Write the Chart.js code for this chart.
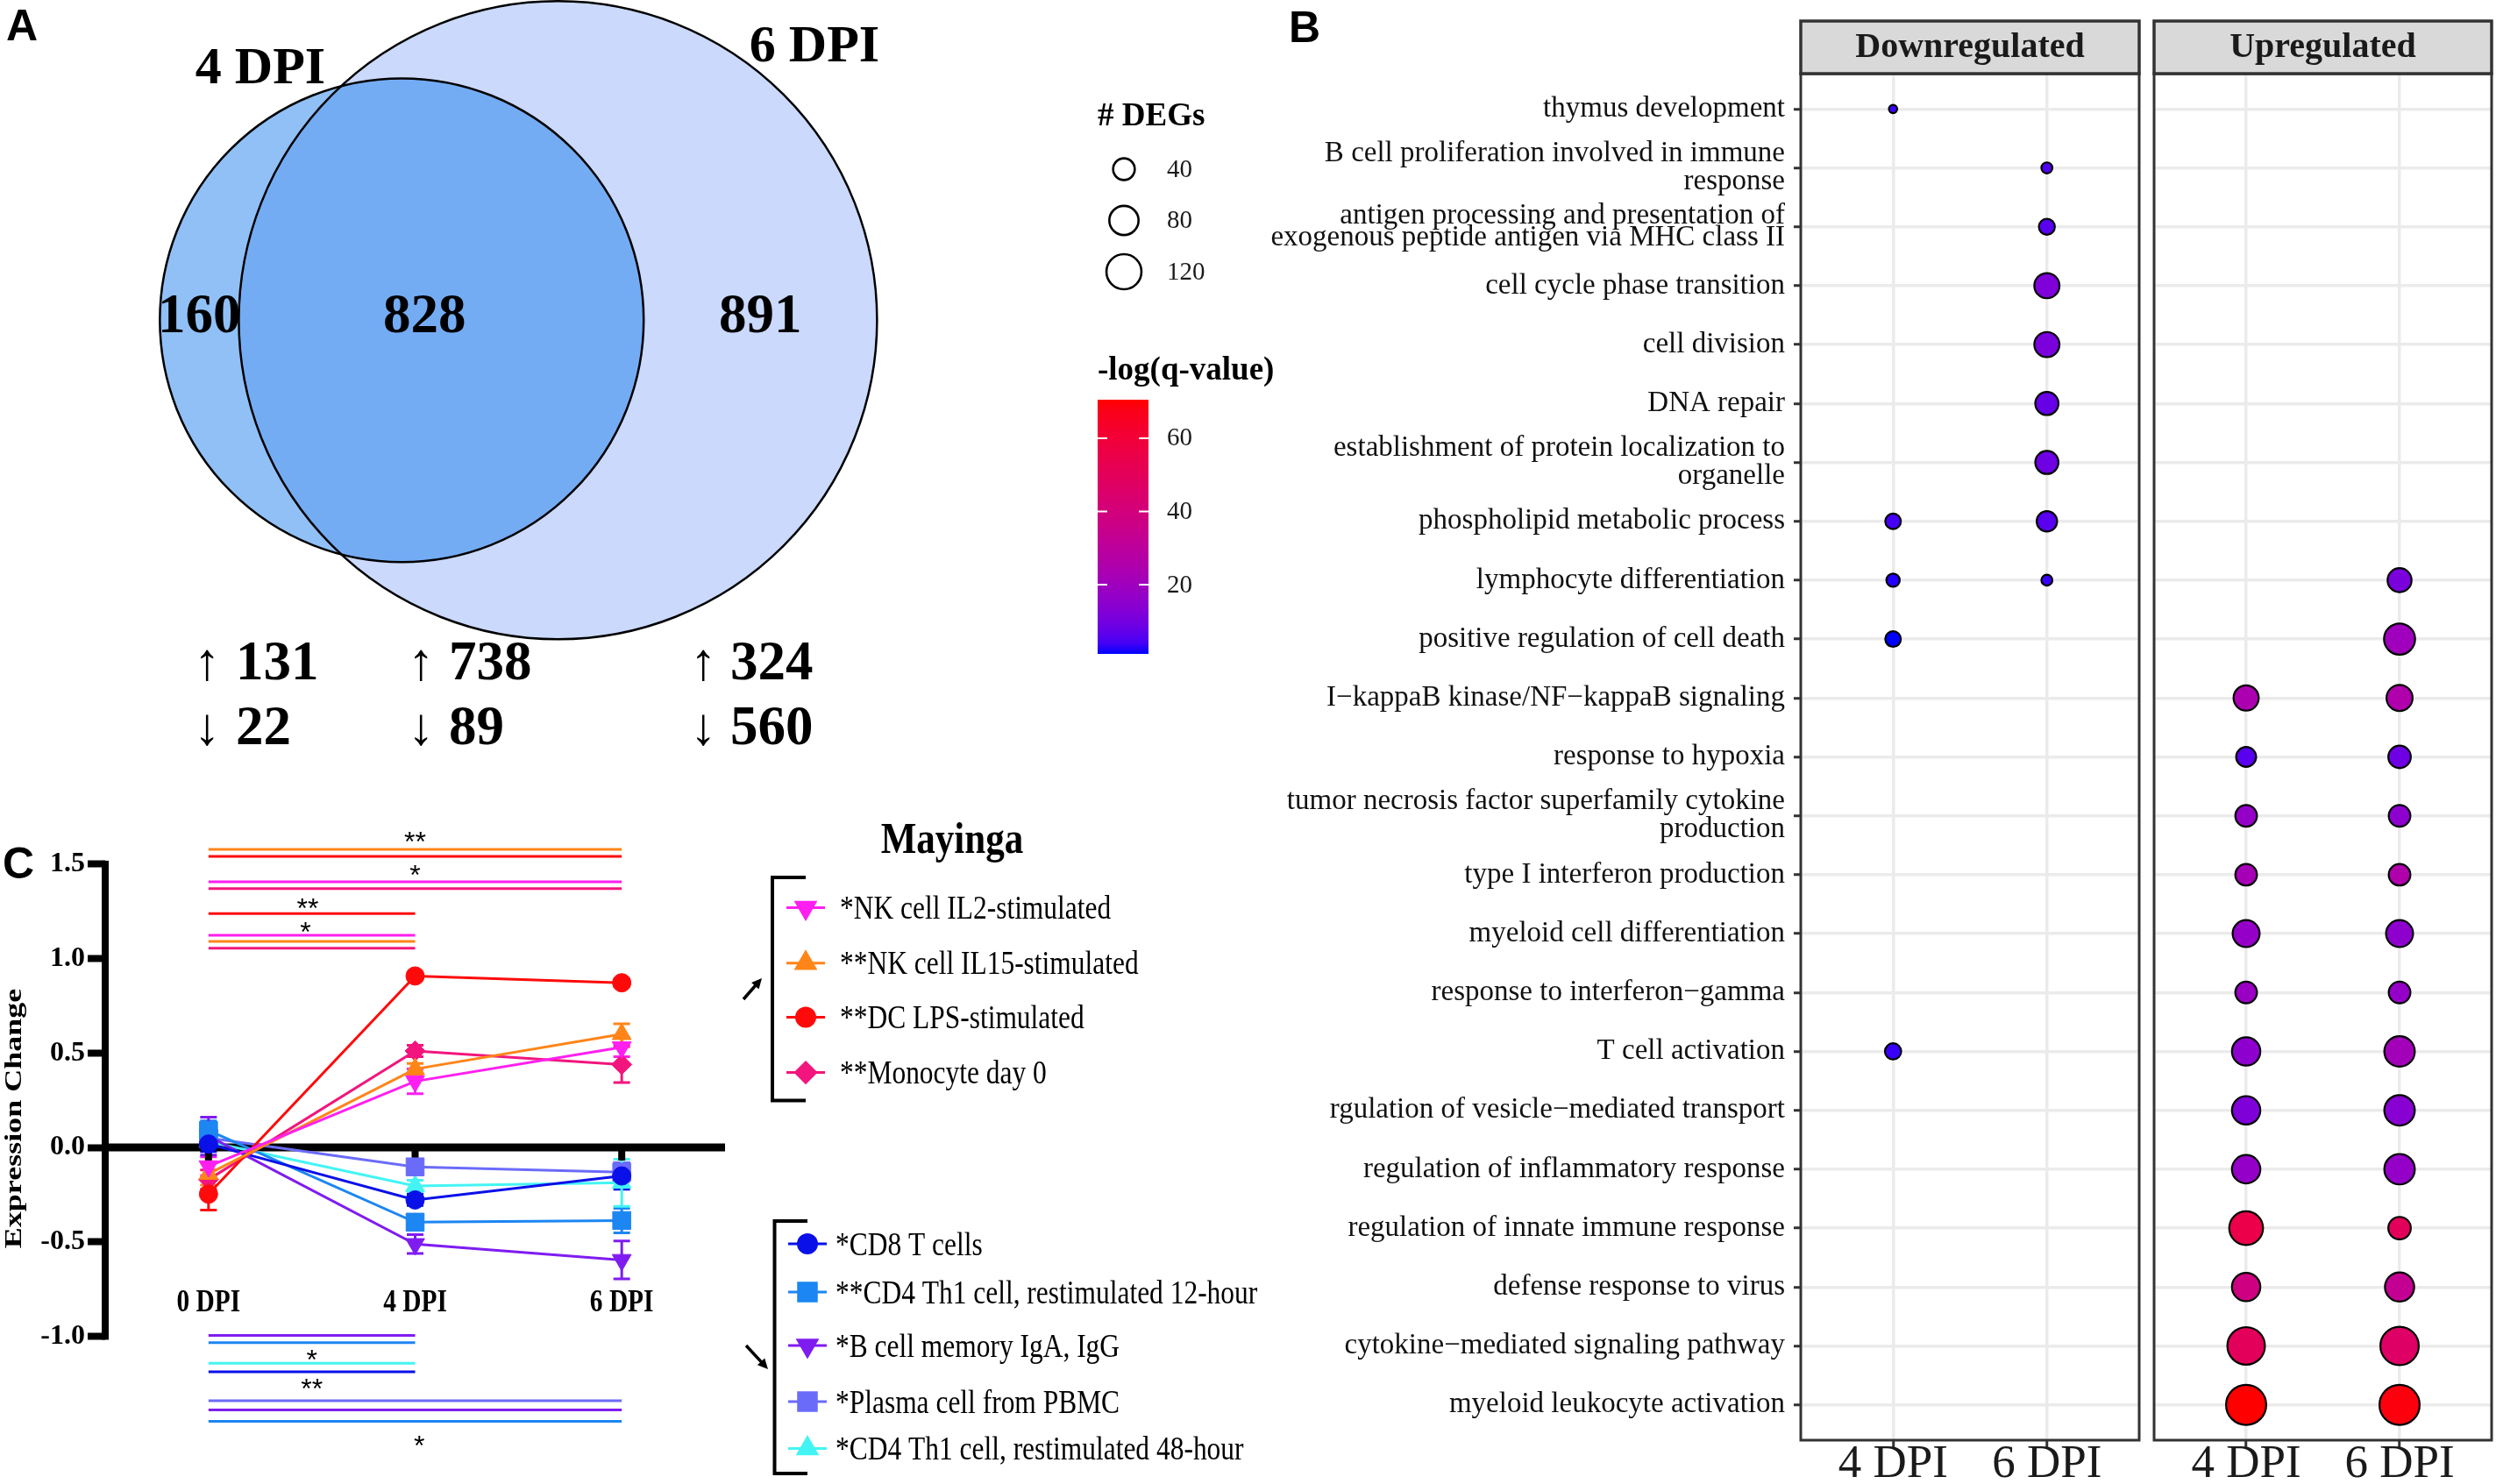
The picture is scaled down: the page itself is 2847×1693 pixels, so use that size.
<!DOCTYPE html>
<html>
<head>
<meta charset="utf-8">
<title>DEGs after infection</title>
<script src="https://cdn.jsdelivr.net/npm/chart.js@4.4.1/dist/chart.umd.min.js"></script>
<style>
  body { margin: 0; background: #fff; overflow: hidden; }
  #page { position: relative; width: 2847px; height: 1693px; overflow: hidden; background: #fff; }
  canvas { position: absolute; }
  .tag { position: absolute; font: bold 50px "Liberation Sans", Arial, sans-serif; line-height: 50px; color: #000; }
</style>
</head>
<body>
<div id="page">
  <canvas id="venn" width="1100" height="880" style="left:0;top:0"></canvas>
  <canvas id="expr" width="1460" height="793" style="left:0;top:900px"></canvas>
  <canvas id="down" width="1247" height="1693" style="left:1200px;top:0"></canvas>
  <canvas id="up" width="400" height="1693" style="left:2447px;top:0"></canvas>
  <div class="tag" style="left:7px;top:4px">A</div>
  <div class="tag" style="left:1470px;top:6px">B</div>
  <div class="tag" style="left:3px;top:960px">C</div>
</div>
<script>
const SERIF = '"Liberation Serif", "Times New Roman", serif';
const SANS = '"Liberation Sans", Arial, sans-serif';
const _ = null;

// ---------- A: venn counts
const vennSets = ['4 DPI', '6 DPI'];
const vennOnly = [160, 891];
const vennShared = 828;
const regUp = [131, 738, 324];
const regDown = [22, 89, 560];

// ---------- B: GO terms, gene counts and -log(q)
const goTerms = [
  'thymus development',
  ['B cell proliferation involved in immune', 'response'],
  ['antigen processing and presentation of', 'exogenous peptide antigen via MHC class II'],
  'cell cycle phase transition',
  'cell division',
  'DNA repair',
  ['establishment of protein localization to', 'organelle'],
  'phospholipid metabolic process',
  'lymphocyte differentiation',
  'positive regulation of cell death',
  'I\u2212kappaB kinase/NF\u2212kappaB signaling',
  'response to hypoxia',
  ['tumor necrosis factor superfamily cytokine', 'production'],
  'type I interferon production',
  'myeloid cell differentiation',
  'response to interferon\u2212gamma',
  'T cell activation',
  'rgulation of vesicle\u2212mediated transport',
  'regulation of inflammatory response',
  'regulation of innate immune response',
  'defense response to virus',
  'cytokine\u2212mediated signaling pathway',
  'myeloid leukocyte activation'
];
const dpiLabels = ['4 DPI', '6 DPI'];
const downN4 = [3, _, _, _, _, _, _, 18, 12, 18, _, _, _, _, _, _, 20, _, _, _, _, _, _];
const downN6 = [_, 7, 19, 57, 57, 47, 47, 35, 7, _, _, _, _, _, _, _, _, _, _, _, _, _, _];
const upN4   = [_, _, _, _, _, _, _, _, _, _, 57, 33, 40, 40, 67, 40, 75, 75, 75, 111, 75, 140, 162];
const upN6   = [_, _, _, _, _, _, _, _, 51, 92, 62, 44, 40, 40, 67, 40, 88, 88, 88, 44, 80, 147, 162];
const downQ4 = [3, _, _, _, _, _, _, 4, 2, 1.1, _, _, _, _, _, _, 3, _, _, _, _, _, _];
const downQ6 = [_, 5, 6, 12, 11, 8, 9, 6, 3, _, _, _, _, _, _, _, _, _, _, _, _, _, _];
const upQ4   = [_, _, _, _, _, _, _, _, _, _, 24, 6, 17, 22, 17, 18, 15, 12, 17, 55, 38, 50, 70.5];
const upQ6   = [_, _, _, _, _, _, _, _, 11, 20, 25, 9, 15, 25, 15, 17, 21, 14, 17, 50, 33, 47, 69];
const sizeBreaks = [40, 80, 120];
const colorBreaks = [20, 40, 60];

// ---------- C: expression change per cell type
const timePoints = ['0 DPI', '4 DPI', '6 DPI'];
const cellTypes = [
  '*NK cell IL2-stimulated', '**NK cell IL15-stimulated', '**DC LPS-stimulated', '**Monocyte day 0',
  '*CD8 T cells', '**CD4 Th1 cell, restimulated 12-hour', '*B cell memory IgA, IgG',
  '*Plasma cell from PBMC', '*CD4 Th1 cell, restimulated 48-hour'
];
const exprMean = [
  [-0.10, 0.35, 0.53],
  [-0.14, 0.415, 0.60],
  [-0.247, 0.908, 0.872],
  [-0.17, 0.511, 0.439],
  [0.018, -0.278, -0.151],
  [0.09, -0.396, -0.387],
  [0.06, -0.512, -0.596],
  [0.05, -0.103, -0.131],
  [0.03, -0.204, -0.187]
];
const exprSem = [
  [0.05, 0.065, 0.05],
  [0.06, 0.03, 0.055],
  [0.085, 0.02, 0.02],
  [0.05, 0.03, 0.095],
  [0.04, 0.03, 0.07],
  [0.05, 0.03, 0.065],
  [0.10, 0.05, 0.10],
  [0.04, 0.04, 0.05],
  [0.04, 0.03, 0.125]
];
const yTicks = [-1, -0.5, 0, 0.5, 1, 1.5];
// [series, last time index, level] and [stars, x, level]
const sigBars = [
  [1, 2, 1.578], [2, 2, 1.541], [0, 2, 1.407], [3, 2, 1.371],
  [2, 1, 1.238], [0, 1, 1.123], [1, 1, 1.091], [3, 1, 1.055],
  [6, 1, -0.996], [5, 1, -1.034], [8, 1, -1.143], [4, 1, -1.188],
  [7, 2, -1.342], [6, 2, -1.390], [5, 2, -1.451]
];
const sigStars = [
  ['**', 1.0, 1.654], ['*', 1.0, 1.474], ['**', 0.48, 1.302], ['*', 0.47, 1.173],
  ['*', 0.5, -1.09], ['**', 0.5, -1.246], ['*', 1.02, -1.547]
];

// styles
const cellColors = ['#FF1FF0', '#FF8519', '#FF0A0A', '#F2157D', '#0A10E8', '#1C86F2', '#7F1CF0', '#6B6BFA', '#44F4F4'];
const cellMarkers = [['triangle', 180], ['triangle', 0], ['circle', 0], ['rectRot', 0], ['circle', 0], ['rect', 0], ['triangle', 180], ['rect', 0], ['triangle', 0]];
const markerRadius = { triangle: 12.5, circle: 10.5, rect: 14.5, rectRot: 11.5 };

// ---------- helpers
function squeezeText(ctx, text, x, y, sx, align) {
  ctx.save();
  ctx.translate(x, y);
  ctx.scale(sx, 1);
  ctx.textAlign = align || 'left';
  ctx.fillText(text, 0, 0);
  ctx.restore();
}

// ggplot-like blue -> red gradient, interpolated in Lab
function lin(c) { c /= 255; return c <= 0.04045 ? c / 12.92 : Math.pow((c + 0.055) / 1.055, 2.4); }
function toLab(rgb) {
  const [r, g, b] = rgb.map(lin);
  const X = (r * 0.4124 + g * 0.3576 + b * 0.1805) / 0.95047;
  const Y = r * 0.2126 + g * 0.7152 + b * 0.0722;
  const Z = (r * 0.0193 + g * 0.1192 + b * 0.9505) / 1.08883;
  const f = t => t > 0.008856 ? Math.cbrt(t) : 7.787 * t + 16 / 116;
  return [116 * f(Y) - 16, 500 * (f(X) - f(Y)), 200 * (f(Y) - f(Z))];
}
function fromLab(L, a, b) {
  const fy = (L + 16) / 116, fx = fy + a / 500, fz = fy - b / 200;
  const fi = t => t * t * t > 0.008856 ? t * t * t : (t - 16 / 116) / 7.787;
  const X = 0.95047 * fi(fx), Y = fi(fy), Z = 1.08883 * fi(fz);
  const rgb = [
    3.2406 * X - 1.5372 * Y - 0.4986 * Z,
    -0.9689 * X + 1.8758 * Y + 0.0415 * Z,
    0.0557 * X - 0.2040 * Y + 1.0570 * Z
  ].map(c => {
    c = c <= 0.0031308 ? 12.92 * c : 1.055 * Math.pow(c, 1 / 2.4) - 0.055;
    return Math.round(Math.min(1, Math.max(0, c)) * 255);
  });
  return 'rgb(' + rgb.join(',') + ')';
}
const LAB_LOW = toLab([0, 0, 255]);
const LAB_HIGH = toLab([255, 0, 0]);
const allQ = [...downQ4, ...downQ6, ...upQ4, ...upQ6].filter(v => v != null);
const qMin = Math.min(...allQ), qMax = Math.max(...allQ);
function qColor(q) {
  const t = Math.min(1, Math.max(0, (q - qMin) / (qMax - qMin)));
  return fromLab(
    LAB_LOW[0] + t * (LAB_HIGH[0] - LAB_LOW[0]),
    LAB_LOW[1] + t * (LAB_HIGH[1] - LAB_LOW[1]),
    LAB_LOW[2] + t * (LAB_HIGH[2] - LAB_LOW[2])
  );
}
function dotRadius(n) { return (3.8 + 3.3 * Math.sqrt(n)) / 2; }

// ---------- A: venn as bubbles, sizes by area
function lensArea(r1, r2, d) {
  if (d >= r1 + r2) return 0;
  if (d <= Math.abs(r1 - r2)) return Math.PI * Math.min(r1, r2) ** 2;
  const a1 = Math.acos((d * d + r1 * r1 - r2 * r2) / (2 * d * r1));
  const a2 = Math.acos((d * d + r2 * r2 - r1 * r1) / (2 * d * r2));
  return r1 * r1 * a1 + r2 * r2 * a2 -
    0.5 * Math.sqrt((-d + r1 + r2) * (d + r1 - r2) * (d - r1 + r2) * (d + r1 + r2));
}
function centreDistance(r1, r2, shared) {
  const target = Math.PI * shared;
  let lo = Math.abs(r1 - r2), hi = r1 + r2;
  for (let i = 0; i < 60; i++) {
    const mid = (lo + hi) / 2;
    if (lensArea(r1, r2, mid) > target) lo = mid; else hi = mid;
  }
  return (lo + hi) / 2;
}
const vennR = vennOnly.map(n => Math.sqrt(n + vennShared));
const vennD = centreDistance(vennR[0], vennR[1], vennShared);
const VENN_X = [-52.2, 73.1];
const unitPx = chart => chart.width / (VENN_X[1] - VENN_X[0]);

const vennText = {
  id: 'vennText',
  afterDatasetsDraw(chart) {
    const ctx = chart.ctx;
    const e4 = chart.getDatasetMeta(0).data[0], e6 = chart.getDatasetMeta(1).data[0];
    const r4 = e4.options.radius, r6 = e6.options.radius;
    ctx.save();
    ctx.strokeStyle = '#000';
    ctx.lineWidth = 2.5;
    [e4, e6].forEach(e => {
      ctx.beginPath();
      ctx.arc(e.x, e.y, e.options.radius, 0, Math.PI * 2);
      ctx.stroke();
    });
    ctx.fillStyle = '#000';
    ctx.textAlign = 'center';
    ctx.font = 'bold 60px ' + SERIF;
    ctx.fillText(vennSets[0], 297, 95);
    ctx.fillText(vennSets[1], 929, 70);
    ctx.font = 'bold 63px ' + SERIF;
    const cy = e4.y + 14;
    ctx.fillText(String(vennOnly[0]), ((e4.x - r4) + (e6.x - r6)) / 2, cy);
    ctx.fillText(String(vennShared), (e6.x - r6 + e4.x + r4) / 2 - 19, cy);
    ctx.fillText(String(vennOnly[1]), ((e4.x + r4) + (e6.x + r6)) / 2, cy);
    const cols = [[236, 269], [480, 512], [802, 833]];
    cols.forEach(([ax, nx], i) => {
      ctx.textAlign = 'center';
      ctx.font = '60px ' + SERIF;
      ctx.fillText('\u2191', ax, 775);
      ctx.fillText('\u2193', ax, 849);
      ctx.textAlign = 'left';
      ctx.font = 'bold 63px ' + SERIF;
      ctx.fillText(String(regUp[i]), nx, 775);
      ctx.fillText(String(regDown[i]), nx, 849);
    });
    ctx.restore();
  }
};

new Chart(document.getElementById('venn'), {
  type: 'bubble',
  data: {
    datasets: [
      { label: vennSets[0], data: [{ x: 0, y: 0 }], backgroundColor: 'rgba(20,122,235,0.47)', borderWidth: 0,
        radius: ctx => vennR[0] * unitPx(ctx.chart) },
      { label: vennSets[1], data: [{ x: vennD, y: 0 }], backgroundColor: '#CAD9FC', borderWidth: 0,
        radius: ctx => vennR[1] * unitPx(ctx.chart) }
    ]
  },
  options: {
    responsive: false, animation: false, events: [], devicePixelRatio: 1,
    layout: { padding: 0, autoPadding: false },
    plugins: { legend: { display: false }, tooltip: { enabled: false } },
    scales: {
      x: { type: 'linear', display: false, min: VENN_X[0], max: VENN_X[1] },
      y: { type: 'linear', display: false, min: -58.6, max: 41.6 }
    }
  },
  plugins: [vennText]
});

// ---------- B: GO dot plot, one chart per facet
const facet = {
  id: 'facet',
  afterDraw(chart, args, opts) {
    const { ctx, chartArea: a } = chart;
    ctx.save();
    ctx.strokeStyle = '#333';
    ctx.lineWidth = 3;
    ctx.strokeRect(a.left, a.top, a.width, a.height);
    ctx.fillStyle = '#D9D9D9';
    ctx.fillRect(a.left, 24, a.width, a.top - 24);
    ctx.lineWidth = 3.5;
    ctx.strokeRect(a.left, 24, a.width, a.top - 24);
    ctx.fillStyle = '#1a1a1a';
    ctx.font = 'bold 40px ' + SERIF;
    ctx.textAlign = 'center';
    ctx.fillText(opts.title, (a.left + a.right) / 2, 65);
    ctx.restore();
  }
};

const dotLegend = {
  id: 'dotLegend',
  afterDraw(chart) {
    const ctx = chart.ctx;
    ctx.save();
    ctx.fillStyle = '#000';
    ctx.textAlign = 'left';
    ctx.font = 'bold 37px ' + SERIF;
    ctx.fillText('# DEGs', 52, 143);
    sizeBreaks.forEach((n, i) => {
      const cy = 193 + i * 58.5;
      ctx.beginPath();
      ctx.arc(82, cy, dotRadius(n), 0, Math.PI * 2);
      ctx.lineWidth = 2.6;
      ctx.strokeStyle = '#000';
      ctx.stroke();
      ctx.font = '29px ' + SERIF;
      ctx.textBaseline = 'middle';
      ctx.fillStyle = '#1a1a1a';
      ctx.fillText(String(n), 131, cy + 1);
      ctx.textBaseline = 'alphabetic';
    });
    ctx.fillStyle = '#000';
    ctx.font = 'bold 37px ' + SERIF;
    ctx.fillText('-log(q-value)', 52, 433);
    const top = 456, bot = 746, left = 52, w = 58;
    const g = ctx.createLinearGradient(0, bot, 0, top);
    for (let i = 0; i <= 24; i++) g.addColorStop(i / 24, qColor(qMin + (i / 24) * (qMax - qMin)));
    ctx.fillStyle = g;
    ctx.fillRect(left, top, w, bot - top);
    colorBreaks.forEach(q => {
      const yy = bot - (q - qMin) / (qMax - qMin) * (bot - top);
      ctx.strokeStyle = '#fff';
      ctx.lineWidth = 2;
      ctx.beginPath();
      ctx.moveTo(left, yy); ctx.lineTo(left + 11, yy);
      ctx.moveTo(left + w - 11, yy); ctx.lineTo(left + w, yy);
      ctx.stroke();
      ctx.fillStyle = '#1a1a1a';
      ctx.font = '29px ' + SERIF;
      ctx.textBaseline = 'middle';
      ctx.fillText(String(q), 131, yy + 1);
      ctx.textBaseline = 'alphabetic';
    });
    ctx.restore();
  }
};

function dotPoints(counts, qs, x) {
  return counts.map((n, i) => n == null ? null : { x: x, y: i + 1, r: dotRadius(n), q: qs[i] }).filter(p => p);
}

function dotChart(id, title, n4, n6, q4, q6, withLabels, padLeft, padRight, extra) {
  const grid = { color: '#EBEBEB', lineWidth: 3.5, tickColor: '#333', tickWidth: 3 };
  return new Chart(document.getElementById(id), {
    type: 'bubble',
    data: {
      datasets: [{
        label: title,
        data: [...dotPoints(n4, q4, 1), ...dotPoints(n6, q6, 2)],
        backgroundColor: ctx => ctx.raw ? qColor(ctx.raw.q) : '#000',
        borderColor: '#000',
        borderWidth: 2.2
      }]
    },
    options: {
      responsive: false, animation: false, events: [], devicePixelRatio: 1,
      layout: { padding: { left: padLeft, right: padRight, top: 84, bottom: 0 }, autoPadding: false },
      plugins: { legend: { display: false }, tooltip: { enabled: false }, facet: { title: title } },
      scales: {
        x: {
          type: 'linear', min: 0.4, max: 2.6,
          afterBuildTicks: s => { s.ticks = dpiLabels.map((l, i) => ({ value: i + 1 })); },
          afterFit: s => { s.height = 50; },
          ticks: { autoSkip: false, maxRotation: 0, padding: -6, color: '#1a1a1a',
                   font: { family: SERIF, size: 53, lineHeight: 1 }, callback: v => dpiLabels[v - 1] },
          grid: Object.assign({ tickLength: 8 }, grid),
          border: { display: false }
        },
        y: {
          type: 'linear', reverse: true, min: 0.4, max: 23.6,
          afterBuildTicks: s => { s.ticks = goTerms.map((t, i) => ({ value: i + 1 })); },
          afterFit: s => { s.width = withLabels ? 854 : 0; },
          ticks: {
            display: withLabels, autoSkip: false, padding: 10, color: '#111',
            font: c => ({ family: SERIF, size: 33, lineHeight: c.index === 2 ? 0.76 : 0.97 }),
            callback: v => goTerms[v - 1]
          },
          grid: Object.assign({ tickLength: 8, drawTicks: withLabels }, grid),
          border: { display: false }
        }
      }
    },
    plugins: [facet].concat(extra)
  });
}

dotChart('down', 'Downregulated', downN4, downN6, downQ4, downQ6, true, 0, 7, [dotLegend]);
dotChart('up', 'Upregulated', upN4, upN6, upQ4, upQ6, false, 10, 5, []);

// ---------- C: expression change lines
const exprDecor = {
  id: 'exprDecor',
  beforeDatasetsDraw(chart) {
    const { ctx, chartArea: a, scales: { x, y } } = chart;
    ctx.save();
    exprMean.forEach((row, k) => {
      ctx.strokeStyle = cellColors[k];
      ctx.lineWidth = 3;
      row.forEach((m, i) => {
        const e = exprSem[k][i], px = x.getPixelForValue(i);
        const y1 = y.getPixelForValue(m + e), y2 = y.getPixelForValue(m - e);
        ctx.beginPath();
        ctx.moveTo(px, y1); ctx.lineTo(px, y2);
        ctx.moveTo(px - 9.5, y1); ctx.lineTo(px + 9.5, y1);
        ctx.moveTo(px - 9.5, y2); ctx.lineTo(px + 9.5, y2);
        ctx.stroke();
      });
    });
    const y0 = y.getPixelForValue(0);
    const yTop = y.getPixelForValue(yTicks[yTicks.length - 1]);
    const yBot = y.getPixelForValue(yTicks[0]);
    ctx.fillStyle = '#000';
    ctx.fillRect(a.left - 4, yTop - 4, 8, yBot - yTop + 8);
    ctx.fillRect(a.left - 4, y0 - 4.5, a.right - a.left + 4, 9);
    timePoints.forEach((t, i) => ctx.fillRect(x.getPixelForValue(i) - 4, y0, 8, 15));
    ctx.restore();
  },
  afterDatasetsDraw(chart) {
    const { ctx, scales: { x, y } } = chart;
    ctx.save();
    ctx.lineWidth = 3;
    sigBars.forEach(([k, to, lv]) => {
      ctx.strokeStyle = cellColors[k];
      ctx.beginPath();
      ctx.moveTo(x.getPixelForValue(0), y.getPixelForValue(lv));
      ctx.lineTo(x.getPixelForValue(to), y.getPixelForValue(lv));
      ctx.stroke();
    });
    ctx.fillStyle = '#000';
    ctx.font = '32px ' + SANS;
    ctx.textAlign = 'center';
    sigStars.forEach(([s, sx, lv]) => ctx.fillText(s, x.getPixelForValue(sx), y.getPixelForValue(lv) + 18));

    // x labels under the plot
    ctx.font = 'bold 35px ' + SERIF;
    timePoints.forEach((t, i) => squeezeText(ctx, t, x.getPixelForValue(i), y.getPixelForValue(0) + 187, 0.84, 'center'));

    // y title
    ctx.save();
    ctx.translate(23.5, 376);
    ctx.rotate(-Math.PI / 2);
    ctx.scale(1, 0.78);
    ctx.font = 'bold 36px ' + SERIF;
    ctx.textAlign = 'center';
    ctx.fillText('Expression Change', 0, 0);
    ctx.restore();

    // legend
    ctx.font = 'bold 50px ' + SERIF;
    squeezeText(ctx, 'Mayinga', 1086, 73, 0.86, 'center');
    const groups = [
      { items: [0, 1, 2, 3], ys: [135.5, 198.7, 260.4, 323.6], bx: 881, by: [101, 355.5], mx: 919, tx: 958 },
      { items: [4, 5, 6, 7, 8], ys: [519, 574, 635, 699, 752.5], bx: 883.5, by: [493, 781], mx: 921, tx: 953 }
    ];
    groups.forEach(gp => {
      ctx.strokeStyle = '#000';
      ctx.lineWidth = 4;
      ctx.beginPath();
      ctx.moveTo(gp.mx, gp.by[0]); ctx.lineTo(gp.bx, gp.by[0]);
      ctx.lineTo(gp.bx, gp.by[1]); ctx.lineTo(gp.mx, gp.by[1]);
      ctx.stroke();
      gp.items.forEach((k, j) => {
        const yy = gp.ys[j];
        ctx.strokeStyle = cellColors[k];
        ctx.fillStyle = cellColors[k];
        ctx.lineWidth = 3;
        ctx.beginPath();
        ctx.moveTo(gp.mx - 22, yy); ctx.lineTo(gp.mx + 22, yy);
        ctx.stroke();
        Chart.helpers.drawPoint(ctx, {
          pointStyle: cellMarkers[k][0], rotation: cellMarkers[k][1],
          radius: markerRadius[cellMarkers[k][0]], borderWidth: 1
        }, gp.mx, yy);
        ctx.fillStyle = '#000';
        ctx.font = '37px ' + SERIF;
        squeezeText(ctx, cellTypes[k], gp.tx, yy + 12.5, 0.85, 'left');
      });
    });
    // direction arrows
    const arrow = (x1, y1, x2, y2) => {
      const ang = Math.atan2(y2 - y1, x2 - x1);
      ctx.strokeStyle = '#000';
      ctx.fillStyle = '#000';
      ctx.lineWidth = 3.5;
      ctx.beginPath(); ctx.moveTo(x1, y1); ctx.lineTo(x2 - 6 * Math.cos(ang), y2 - 6 * Math.sin(ang)); ctx.stroke();
      ctx.beginPath();
      ctx.moveTo(x2, y2);
      ctx.lineTo(x2 - 13 * Math.cos(ang - 0.45), y2 - 13 * Math.sin(ang - 0.45));
      ctx.lineTo(x2 - 13 * Math.cos(ang + 0.45), y2 - 13 * Math.sin(ang + 0.45));
      ctx.closePath(); ctx.fill();
    };
    arrow(848, 240, 869, 216);
    arrow(851, 635, 876, 662);
    ctx.restore();
  }
};

new Chart(document.getElementById('expr'), {
  type: 'line',
  data: {
    datasets: cellTypes.map((name, k) => ({
      label: name,
      data: exprMean[k].map((v, i) => ({ x: i, y: v })),
      borderColor: cellColors[k],
      backgroundColor: cellColors[k],
      borderWidth: 3,
      tension: 0,
      pointStyle: cellMarkers[k][0],
      pointRotation: cellMarkers[k][1],
      pointRadius: markerRadius[cellMarkers[k][0]],
      pointBorderWidth: 1
    }))
  },
  options: {
    responsive: false, animation: false, events: [], devicePixelRatio: 1,
    layout: { padding: { left: 0, right: 633, top: 38.5, bottom: 35 }, autoPadding: false },
    plugins: { legend: { display: false }, tooltip: { enabled: false } },
    scales: {
      x: { type: 'linear', display: false, min: -0.5, max: 2.5 },
      y: {
        type: 'linear', min: -1.62, max: 1.72,
        afterBuildTicks: s => { s.ticks = yTicks.map(v => ({ value: v })); },
        afterFit: s => { s.width = 120; },
        ticks: { callback: v => v.toFixed(1), color: '#000', padding: 3,
                 font: { family: SERIF, size: 32, weight: 'bold' } },
        grid: { drawOnChartArea: false, tickLength: 20, tickWidth: 8, tickColor: '#000' },
        border: { display: false }
      }
    }
  },
  plugins: [exprDecor]
});
</script>
</body>
</html>
